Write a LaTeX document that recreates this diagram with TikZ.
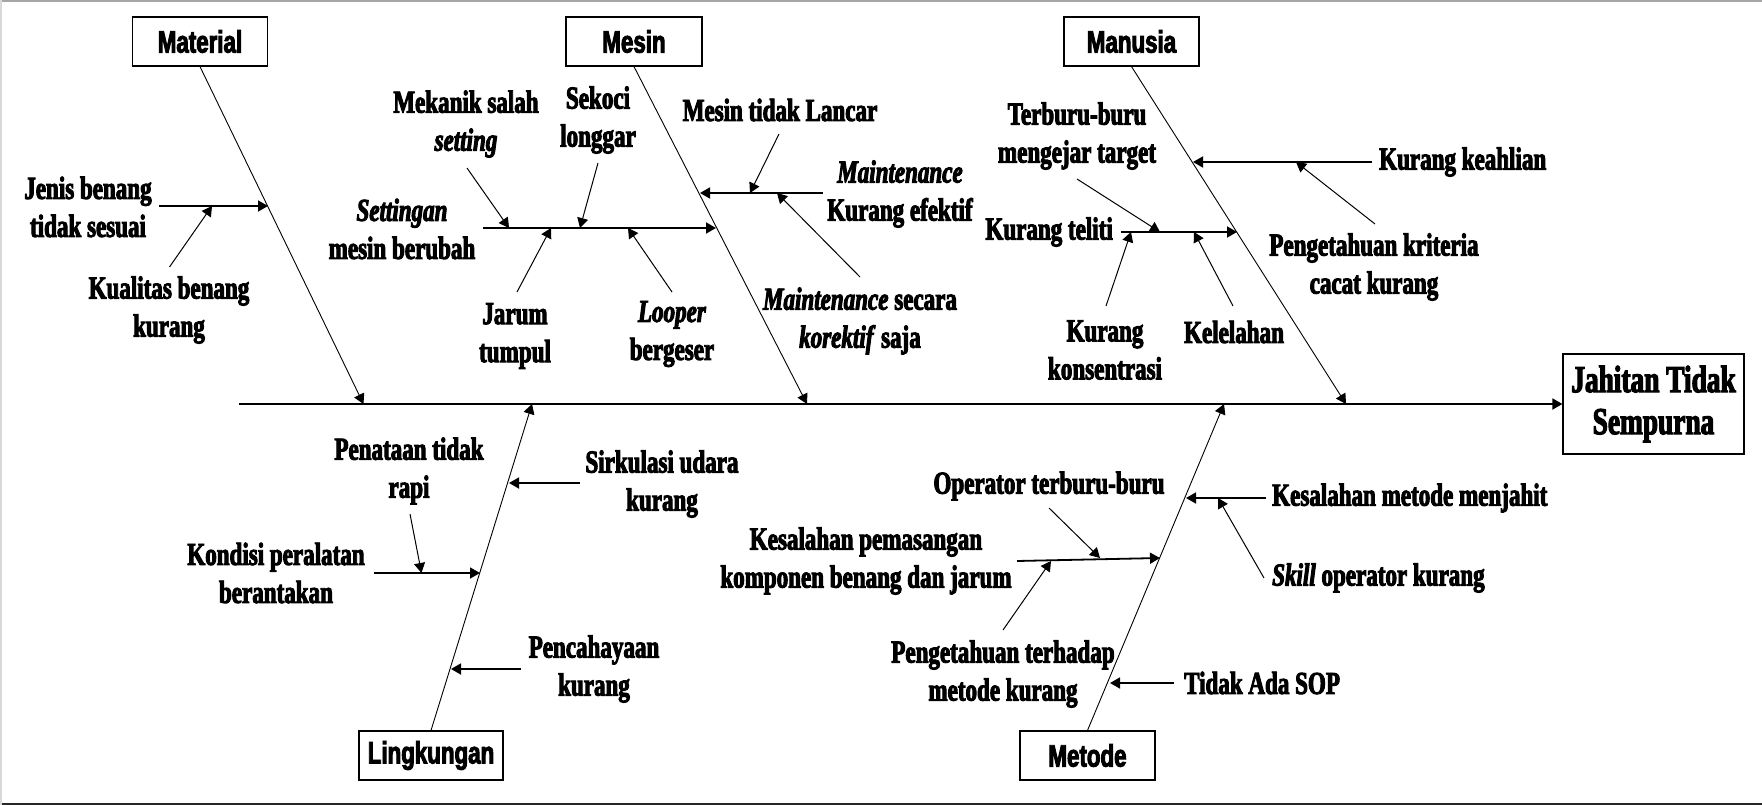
\documentclass[tikz,border=0pt]{standalone}
\usepackage{fontspec}
\setmainfont{Liberation Serif Bold}[ItalicFont={Liberation Serif Bold Italic}, BoldFont={Liberation Serif Bold}, BoldItalicFont={Liberation Serif Bold Italic}, FakeStretch=0.72, FakeBold=3]
\newfontfamily\boxfont{Liberation Sans Bold}[BoldFont={Liberation Sans Bold}, FakeStretch=0.72, FakeBold=3]
\usetikzlibrary{arrows.meta}
\tikzset{
  lbl/.style={inner sep=0pt, align=center, font=\fontsize{32}{38}\selectfont},
  catbox/.style={draw, line width=1.2pt, minimum width=135pt, minimum height=49pt, inner sep=0pt,
    font=\boxfont\fontsize{31}{36}\selectfont},
  effbox/.style={draw, line width=1.2pt, minimum width=181pt, minimum height=100pt, inner sep=0pt,
    align=center, font=\fontsize{38}{42}\selectfont},
  tipa/.style={-{Triangle[length=10pt,width=11pt]}},
  mainline/.style={line width=1.8pt, tipa},
  spine/.style={line width=0.9pt, tipa},
  cause/.style={line width=1.8pt, tipa},
  subc/.style={line width=1pt, tipa},
}
\begin{document}
\begin{tikzpicture}[x=1pt,y=-1pt]
\useasboundingbox (0,0) rectangle (1762,805);
% frame
\draw[gray!70, line width=2pt] (0,1) -- (1762,1);
\draw[black!85, line width=2pt] (0,804) -- (1762,804);
\draw[gray!30, line width=1.5pt] (0.75,0) -- (0.75,805);

% boxes
\node[catbox] (mat) at (200,41.5) {Material};
\node[catbox, minimum width=136pt] (mes) at (634,41.5) {Mesin};
\node[catbox] (man) at (1131.5,41.5) {Manusia};
\node[catbox, minimum width=144pt] (lin) at (431,755.5) {Lingkungan};
\node[catbox] (met) at (1087.5,755.5) {Metode};
\node[effbox] (eff) at (1653.5,404) {Jahitan Tidak\\Sempurna};

% main line
\coordinate (mainL) at (239,404);
\draw[mainline] (mainL) -- (eff.west);

% spines
\coordinate (matE) at (363.5,404);
\coordinate (mesE) at (807,404);
\coordinate (manE) at (1346,404);
\coordinate (linE) at (532,404);
\coordinate (metE) at (1224,404);
\draw[spine] (mat.south) -- (matE);
\draw[spine] (mes.south) -- (mesE);
\draw[spine] (man.south) -- (manE);
\draw[spine] (lin.north) -- (linE);
\draw[spine] (met.north) -- (metE);

% ---------- Material ----------
\node[lbl] (jenis) at (88,207) {Jenis benang\\tidak sesuai};
\coordinate (jenisT) at (159,206);
\coordinate (jenisH) at (268,206);
\draw[cause] (jenisT) -- (jenisH);
\node[lbl] (kual) at (169,310) {Kualitas benang\\kurang};
\coordinate (kualT) at (169.5,267);
\coordinate (kualH) at (212,206);
\draw[subc] (kualT) -- (kualH);

% ---------- Mesin ----------
\node[lbl] (sett) at (402,229) {\textit{Settingan}\\mesin berubah};
\coordinate (settT) at (483,228);
\coordinate (settH) at (716,228);
\draw[cause] (settT) -- (settH);
\node[lbl] (mek) at (466,124) {Mekanik salah\\\textit{setting}};
\coordinate (mekT) at (467,168);
\coordinate (mekH) at (509,228);
\draw[subc] (mekT) -- (mekH);
\node[lbl] (sek) at (598,120) {Sekoci\\longgar};
\coordinate (sekT) at (598,163);
\coordinate (sekH) at (580,228);
\draw[subc] (sekT) -- (sekH);
\node[lbl] (jar) at (515,336) {Jarum\\tumpul};
\coordinate (jarT) at (517,292);
\coordinate (jarH) at (551,228);
\draw[subc] (jarT) -- (jarH);
\node[lbl] (loop) at (672,334) {\textit{Looper}\\bergeser};
\coordinate (loopT) at (672,292);
\coordinate (loopH) at (628,228);
\draw[subc] (loopT) -- (loopH);

\node[lbl] (maint) at (900,194) {\textit{Maintenance}\\Kurang efektif};
\coordinate (maintT) at (823,193);
\coordinate (maintH) at (700,193);
\draw[cause] (maintT) -- (maintH);
\node[lbl] (lancar) at (780,110) {Mesin tidak Lancar};
\coordinate (lancarT) at (779,134);
\coordinate (lancarH) at (750,193);
\draw[subc] (lancarT) -- (lancarH);
\node[lbl] (korek) at (860,321) {\textit{Maintenance} secara\\\textit{korektif} saja};
\coordinate (korekT) at (860,277);
\coordinate (korekH) at (777,193);
\draw[subc] (korekT) -- (korekH);

% ---------- Manusia ----------
\node[lbl, anchor=west] (keahl) at (1379,162) {Kurang keahlian};
\coordinate (keahlT) at (1372,162);
\coordinate (keahlH) at (1193,162);
\draw[cause] (keahlT) -- (keahlH);
\node[lbl] (krit) at (1374,267) {Pengetahuan kriteria\\cacat kurang};
\coordinate (kritT) at (1375,224);
\coordinate (kritH) at (1296,162);
\draw[subc] (kritT) -- (kritH);

\node[lbl, anchor=east] (teliti) at (1113,232) {Kurang teliti};
\coordinate (telitiT) at (1121,232);
\coordinate (telitiH) at (1237,232);
\draw[cause] (telitiT) -- (telitiH);
\node[lbl] (terb) at (1077,136) {Terburu-buru\\mengejar target};
\coordinate (terbT) at (1077,179);
\coordinate (terbH) at (1160,232);
\draw[subc] (terbT) -- (terbH);
\node[lbl] (kons) at (1105,350) {Kurang\\konsentrasi};
\coordinate (konsT) at (1106,306);
\coordinate (konsH) at (1131,232);
\draw[subc] (konsT) -- (konsH);
\node[lbl] (lelah) at (1234,332) {Kelelahan};
\coordinate (lelahT) at (1233,306);
\coordinate (lelahH) at (1194,232);
\draw[subc] (lelahT) -- (lelahH);

% ---------- Lingkungan ----------
\node[lbl] (sirk) at (662,484) {Sirkulasi udara\\kurang};
\coordinate (sirkT) at (580,483);
\coordinate (sirkH) at (509,483);
\draw[cause] (sirkT) -- (sirkH);
\node[lbl] (kond) at (276,573) {Kondisi peralatan\\berantakan};
\coordinate (kondT) at (374,573);
\coordinate (kondH) at (480,573);
\draw[cause] (kondT) -- (kondH);
\node[lbl] (pena) at (409,471) {Penataan tidak\\rapi};
\coordinate (penaT) at (410,514);
\coordinate (penaH) at (421.5,573);
\draw[subc] (penaT) -- (penaH);
\node[lbl] (cah) at (594,669) {Pencahayaan\\kurang};
\coordinate (cahT) at (521,669);
\coordinate (cahH) at (451,669);
\draw[cause] (cahT) -- (cahH);

% ---------- Metode ----------
\node[lbl, anchor=west] (kmm) at (1272,498) {Kesalahan metode menjahit};
\coordinate (kmmT) at (1266,498);
\coordinate (kmmH) at (1186,498);
\draw[cause] (kmmT) -- (kmmH);
\node[lbl, anchor=west] (skill) at (1272,578) {\textit{Skill} operator kurang};
\coordinate (skillT) at (1264,578);
\coordinate (skillH) at (1218,498);
\draw[subc] (skillT) -- (skillH);

\node[lbl] (pem) at (866,561) {Kesalahan pemasangan\\komponen benang dan jarum};
\coordinate (pemT) at (1017,561);
\coordinate (pemH) at (1160,558);
\draw[cause] (pemT) -- (pemH);
\node[lbl] (opr) at (1049,486) {Operator terburu-buru};
\coordinate (oprT) at (1049,508);
\coordinate (oprH) at (1100,558);
\draw[subc] (oprT) -- (oprH);
\node[lbl] (pth) at (1003,674) {Pengetahuan terhadap\\metode kurang};
\coordinate (pthT) at (1003,630);
\coordinate (pthH) at (1051,561);
\draw[subc] (pthT) -- (pthH);

\node[lbl, anchor=west] (sop) at (1184,683) {Tidak Ada SOP};
\coordinate (sopT) at (1174,683);
\coordinate (sopH) at (1110,683);
\draw[cause] (sopT) -- (sopH);
\end{tikzpicture}
\end{document}
